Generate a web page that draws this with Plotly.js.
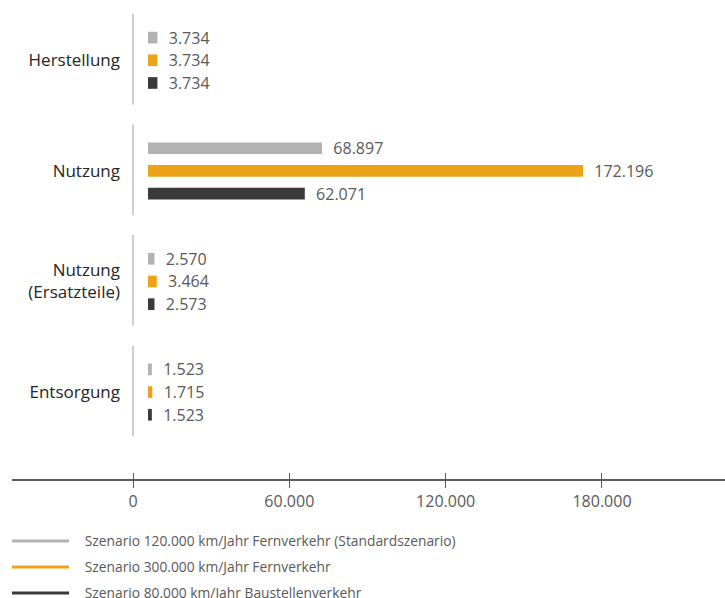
<!DOCTYPE html>
<html>
<head>
<meta charset="utf-8">
<script src="https://cdn.plot.ly/plotly-3.0.1.min.js"></script>
<style>html,body{margin:0;padding:0;background:#fff;}#chart{width:725px;height:598px;}</style>
</head>
<body>
<div id="chart"></div>
<script>
const categories = ["Herstellung", "Nutzung", "Nutzung<br>(Ersatzteile)", "Entsorgung"];
const seriesNames = [
  "Szenario 120.000 km/Jahr Fernverkehr (Standardszenario)",
  "Szenario 300.000 km/Jahr Fernverkehr",
  "Szenario 80.000 km/Jahr Baustellenverkehr"
];
const standard120k = [3734, 68897, 2570, 1523];
const fern300k = [3734, 172196, 3464, 1715];
const baustelle80k = [3734, 62071, 2573, 1523];
const tickValues = [0, 60000, 120000, 180000];
const tickLabels = ["0", "60.000", "120.000", "180.000"];
const colors = ["#b2b2b2", "#eca317", "#3a3a3a"];

const FONT = "Open Sans, Lato, sans-serif";
const seriesValues = [standard120k, fern300k, baustelle80k];
const LEGEND_PAD = "\u00a0\u00a0\u00a0";

const traces = [];
seriesValues.forEach((vals, i) => {
  traces.push({
    type: "bar",
    orientation: "h",
    name: seriesNames[i],
    x: vals,
    y: categories,
    xaxis: "x2",
    yaxis: "y",
    marker: {color: colors[i]},
    texttemplate: "\u00a0\u00a0%{x:,.0f}",
    textposition: "outside",
    constraintext: "none",
    cliponaxis: false,
    textfont: {family: FONT, size: 16, color: "#595959"},
    showlegend: false,
    hoverinfo: "skip"
  });
});
seriesValues.forEach((vals, i) => {
  traces.push({
    type: "scatter",
    mode: "lines",
    name: LEGEND_PAD + seriesNames[i],
    x: [null],
    y: [null],
    xaxis: "x",
    yaxis: "y",
    line: {color: colors[i], width: 3},
    legendgroup: "g" + i,
    showlegend: true
  });
});

// vertical separators at value 0 for each category band
const shapes = categories.map((c, i) => ({
  type: "line",
  xref: "x", yref: "y",
  x0: 0, x1: 0,
  y0: i - 0.42, y1: i + 0.40,
  line: {color: "#bfbfbf", width: 1.5}
}));

const layout = {
  width: 725, height: 598,
  margin: {l: 12, r: 0, t: 5, b: 119, autoexpand: false},
  paper_bgcolor: "#fff",
  plot_bgcolor: "rgba(0,0,0,0)",
  separators: ",.",
  barmode: "group",
  bargap: 0.385,
  bargroupgap: 0.485,
  showlegend: true,
  font: {family: FONT, color: "#595959"},
  xaxis: {
    range: [-46440, 227212],
    tickvals: tickValues,
    ticktext: tickLabels,
    ticks: "outside",
    ticklen: 7,
    tickwidth: 1,
    tickcolor: "#595959",
    showline: true,
    linecolor: "#595959",
    linewidth: 1.5,
    showgrid: false,
    zeroline: false,
    tickangle: 0,
    automargin: false,
    tickfont: {family: FONT, size: 16, color: "#595959"},
    fixedrange: true
  },
  xaxis3: {
    overlaying: "x",
    anchor: "y",
    side: "bottom",
    range: [-46440, 227212],
    tickvals: tickValues,
    ticks: "inside",
    ticklen: 6,
    tickwidth: 1,
    tickcolor: "#595959",
    showticklabels: false,
    showline: false,
    showgrid: false,
    zeroline: false
  },
  xaxis2: {
    overlaying: "x",
    anchor: "y",
    range: [-53840, 228425],
    visible: false,
    showgrid: false,
    zeroline: false
  },
  yaxis: {
    type: "category",
    range: [3.786, -0.5],
    anchor: "free",
    position: 0.1697,
    showline: false,
    showgrid: false,
    zeroline: false,
    ticks: "",
    automargin: false,
    ticklabelstandoff: 13,
    tickfont: {family: FONT, size: 17, color: "#262626"},
    fixedrange: true
  },
  legend: {
    orientation: "v",
    x: -0.007,
    xanchor: "left",
    y: -0.0983,
    yanchor: "top",
    traceorder: "grouped",
    tracegroupgap: 5,
    itemwidth: 57,
    font: {family: FONT, size: 13.8, color: "#595959"},
    bgcolor: "rgba(0,0,0,0)"
  },
  shapes: shapes
};

// dummy trace to activate xaxis3 ticks
traces.push({type: "scatter", x: [null], y: [null], xaxis: "x3", yaxis: "y", showlegend: false, hoverinfo: "skip"});

Plotly.newPlot("chart", traces, layout, {displayModeBar: false, staticPlot: true});
</script>
</body>
</html>
